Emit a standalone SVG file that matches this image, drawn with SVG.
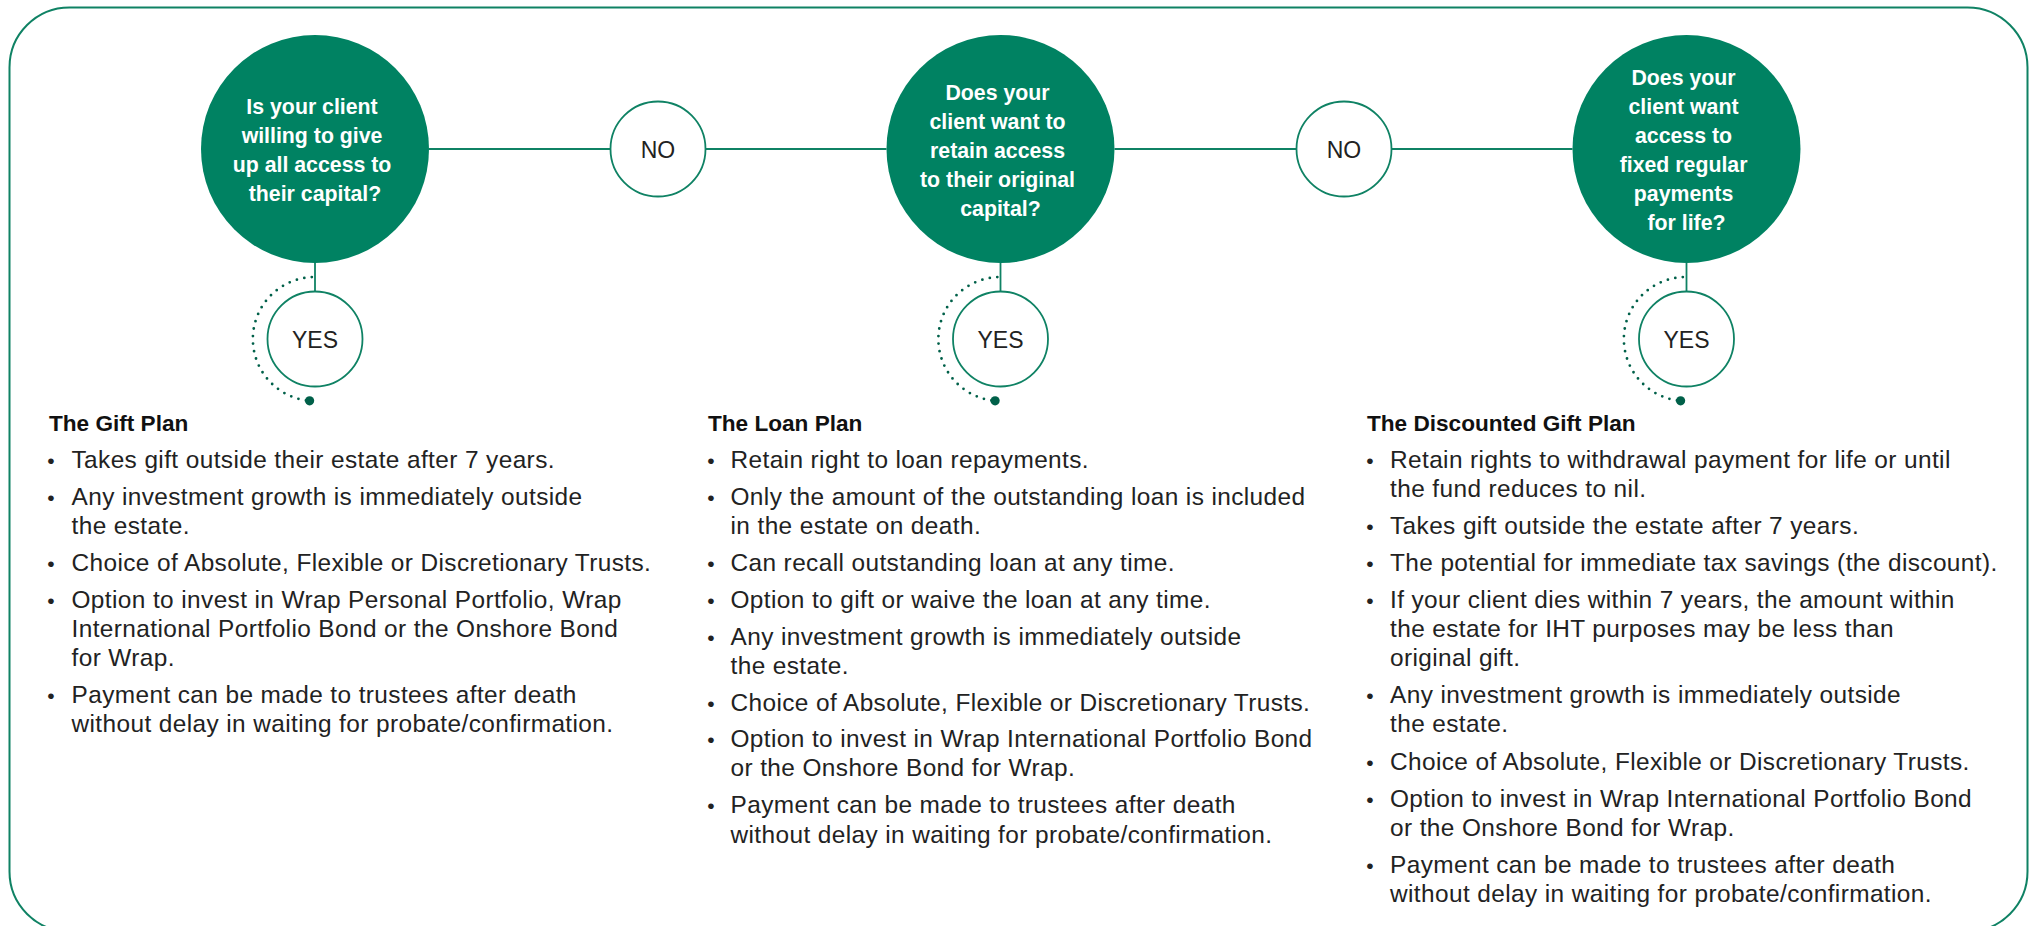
<svg xmlns="http://www.w3.org/2000/svg" width="2035" height="926" viewBox="0 0 2035 926">
  <defs>
    <style>
      .frame { fill: #ffffff; stroke: #0f8264; stroke-width: 2; }
      .question { fill: #008262; }
      .answer { fill: #ffffff; stroke: #0f8264; stroke-width: 1.8; }
      .link { stroke: #0f8264; stroke-width: 1.8; fill: none; }
      .dots { stroke: #006049; stroke-width: 2.8; stroke-linecap: round; stroke-dasharray: 0 7.6; fill: none; }
      .dot-end { fill: #006049; }
      .qtext { font-family: "Liberation Sans", Arial, sans-serif; font-weight: bold; font-size: 21.3px; fill: #ffffff; text-anchor: middle; }
      .atext { font-family: "Liberation Sans", Arial, sans-serif; font-size: 23px; fill: #222222; text-anchor: middle; }
      .head { font-family: "Liberation Sans", Arial, sans-serif; font-weight: bold; font-size: 22.6px; fill: #111111; }
      .body { font-family: "Liberation Sans", Arial, sans-serif; font-size: 24.4px; letter-spacing: 0.4px; fill: #222222; }
      .bullet { font-family: "Liberation Sans", Arial, sans-serif; font-size: 21px; fill: #222222; text-anchor: middle; }
    </style>
  </defs>

  <!-- outer rounded frame -->
  <rect class="frame" x="9.5" y="7.5" width="2018" height="924" rx="60" ry="60"/>

  <!-- connectors -->
  <g id="connectors">
    <line class="link" x1="429" y1="149" x2="610.5" y2="149"/>
    <line class="link" x1="705.5" y1="149" x2="886.5" y2="149"/>
    <line class="link" x1="1114.5" y1="149" x2="1296.5" y2="149"/>
    <line class="link" x1="1391.5" y1="149" x2="1572.5" y2="149"/>
    <line class="link" x1="315" y1="263" x2="315" y2="291.5"/>
    <line class="link" x1="1000.5" y1="263" x2="1000.5" y2="291.5"/>
    <line class="link" x1="1686.5" y1="263" x2="1686.5" y2="291.5"/>
    <!-- dotted arcs wrapping the YES answers -->
    <path class="dots" d="M311.8,277.1 A62,62 0 0 0 309.6,400.8"/>
    <circle class="dot-end" cx="309.6" cy="400.8" r="4.6"/>
    <path class="dots" d="M997.3,277.1 A62,62 0 0 0 995.1,400.8"/>
    <circle class="dot-end" cx="995.1" cy="400.8" r="4.6"/>
    <path class="dots" d="M1682.8,277.1 A62,62 0 0 0 1680.6,400.8"/>
    <circle class="dot-end" cx="1680.6" cy="400.8" r="4.6"/>
  </g>

  <!-- question 1 -->
  <g id="q1">
    <circle class="question" cx="315" cy="149" r="114"/>
    <text class="qtext">
      <tspan x="315" y="114">Is your client</tspan>
      <tspan x="315" y="143">willing to give</tspan>
      <tspan x="315" y="172">up all access to</tspan>
      <tspan x="315" y="201">their capital?</tspan>
    </text>
  </g>

  <!-- question 2 -->
  <g id="q2">
    <circle class="question" cx="1000.5" cy="149" r="114"/>
    <text class="qtext">
      <tspan x="1000.5" y="99.5">Does your</tspan>
      <tspan x="1000.5" y="128.5">client want to</tspan>
      <tspan x="1000.5" y="157.5">retain access</tspan>
      <tspan x="1000.5" y="186.5">to their original</tspan>
      <tspan x="1000.5" y="215.5">capital?</tspan>
    </text>
  </g>

  <!-- question 3 -->
  <g id="q3">
    <circle class="question" cx="1686.5" cy="149" r="114"/>
    <text class="qtext">
      <tspan x="1686.5" y="85">Does your</tspan>
      <tspan x="1686.5" y="114">client want</tspan>
      <tspan x="1686.5" y="143">access to</tspan>
      <tspan x="1686.5" y="172">fixed regular</tspan>
      <tspan x="1686.5" y="201">payments</tspan>
      <tspan x="1686.5" y="230">for life?</tspan>
    </text>
  </g>

  <!-- answers -->
  <g id="no1">
    <circle class="answer" cx="658" cy="149" r="47.5"/>
    <text class="atext" x="658" y="157.5">NO</text>
  </g>
  <g id="no2">
    <circle class="answer" cx="1344" cy="149" r="47.5"/>
    <text class="atext" x="1344" y="157.5">NO</text>
  </g>
  <g id="yes1">
    <circle class="answer" cx="315" cy="339" r="47.5"/>
    <text class="atext" x="315" y="347.5">YES</text>
  </g>
  <g id="yes2">
    <circle class="answer" cx="1000.5" cy="339" r="47.5"/>
    <text class="atext" x="1000.5" y="347.5">YES</text>
  </g>
  <g id="yes3">
    <circle class="answer" cx="1686.5" cy="339" r="47.5"/>
    <text class="atext" x="1686.5" y="347.5">YES</text>
  </g>

  <!-- The Gift Plan -->
  <g id="gift-plan">
    <text class="head" x="49" y="431">The Gift Plan</text>
    <text class="bullet"><tspan x="51" y="468">•</tspan><tspan x="51" y="505">•</tspan><tspan x="51" y="570.5">•</tspan><tspan x="51" y="607.5">•</tspan><tspan x="51" y="702.5">•</tspan></text>
    <text class="body">
      <tspan x="71.5" y="468">Takes gift outside their estate after 7 years.</tspan>
      <tspan x="71.5" y="505">Any investment growth is immediately outside</tspan>
      <tspan x="71.5" y="533.5">the estate.</tspan>
      <tspan x="71.5" y="570.5">Choice of Absolute, Flexible or Discretionary Trusts.</tspan>
      <tspan x="71.5" y="607.5">Option to invest in Wrap Personal Portfolio, Wrap</tspan>
      <tspan x="71.5" y="636.5">International Portfolio Bond or the Onshore Bond</tspan>
      <tspan x="71.5" y="665.5">for Wrap.</tspan>
      <tspan x="71.5" y="702.5">Payment can be made to trustees after death</tspan>
      <tspan x="71.5" y="731.5">without delay in waiting for probate/confirmation.</tspan>
    </text>
  </g>

  <!-- The Loan Plan -->
  <g id="loan-plan">
    <text class="head" x="708" y="431">The Loan Plan</text>
    <text class="bullet"><tspan x="711" y="468">•</tspan><tspan x="711" y="505">•</tspan><tspan x="711" y="570.5">•</tspan><tspan x="711" y="607.5">•</tspan><tspan x="711" y="644.5">•</tspan><tspan x="711" y="710.5">•</tspan><tspan x="711" y="747">•</tspan><tspan x="711" y="813.3">•</tspan></text>
    <text class="body">
      <tspan x="730.5" y="468">Retain right to loan repayments.</tspan>
      <tspan x="730.5" y="505">Only the amount of the outstanding loan is included</tspan>
      <tspan x="730.5" y="533.5">in the estate on death.</tspan>
      <tspan x="730.5" y="570.5">Can recall outstanding loan at any time.</tspan>
      <tspan x="730.5" y="607.5">Option to gift or waive the loan at any time.</tspan>
      <tspan x="730.5" y="644.5">Any investment growth is immediately outside</tspan>
      <tspan x="730.5" y="673.5">the estate.</tspan>
      <tspan x="730.5" y="710.5">Choice of Absolute, Flexible or Discretionary Trusts.</tspan>
      <tspan x="730.5" y="747">Option to invest in Wrap International Portfolio Bond</tspan>
      <tspan x="730.5" y="776">or the Onshore Bond for Wrap.</tspan>
      <tspan x="730.5" y="813.3">Payment can be made to trustees after death</tspan>
      <tspan x="730.5" y="842.7">without delay in waiting for probate/confirmation.</tspan>
    </text>
  </g>

  <!-- The Discounted Gift Plan -->
  <g id="discounted-gift-plan">
    <text class="head" x="1367" y="431">The Discounted Gift Plan</text>
    <text class="bullet"><tspan x="1370" y="468">•</tspan><tspan x="1370" y="533.5">•</tspan><tspan x="1370" y="570.5">•</tspan><tspan x="1370" y="607.5">•</tspan><tspan x="1370" y="702.5">•</tspan><tspan x="1370" y="770">•</tspan><tspan x="1370" y="806.7">•</tspan><tspan x="1370" y="873.3">•</tspan></text>
    <text class="body">
      <tspan x="1390" y="468">Retain rights to withdrawal payment for life or until</tspan>
      <tspan x="1390" y="497">the fund reduces to nil.</tspan>
      <tspan x="1390" y="533.5">Takes gift outside the estate after 7 years.</tspan>
      <tspan x="1390" y="570.5">The potential for immediate tax savings (the discount).</tspan>
      <tspan x="1390" y="607.5">If your client dies within 7 years, the amount within</tspan>
      <tspan x="1390" y="636.5">the estate for IHT purposes may be less than</tspan>
      <tspan x="1390" y="665.5">original gift.</tspan>
      <tspan x="1390" y="702.5">Any investment growth is immediately outside</tspan>
      <tspan x="1390" y="732.3">the estate.</tspan>
      <tspan x="1390" y="770">Choice of Absolute, Flexible or Discretionary Trusts.</tspan>
      <tspan x="1390" y="806.7">Option to invest in Wrap International Portfolio Bond</tspan>
      <tspan x="1390" y="836">or the Onshore Bond for Wrap.</tspan>
      <tspan x="1390" y="873.3">Payment can be made to trustees after death</tspan>
      <tspan x="1390" y="901.7">without delay in waiting for probate/confirmation.</tspan>
    </text>
  </g>
</svg>
